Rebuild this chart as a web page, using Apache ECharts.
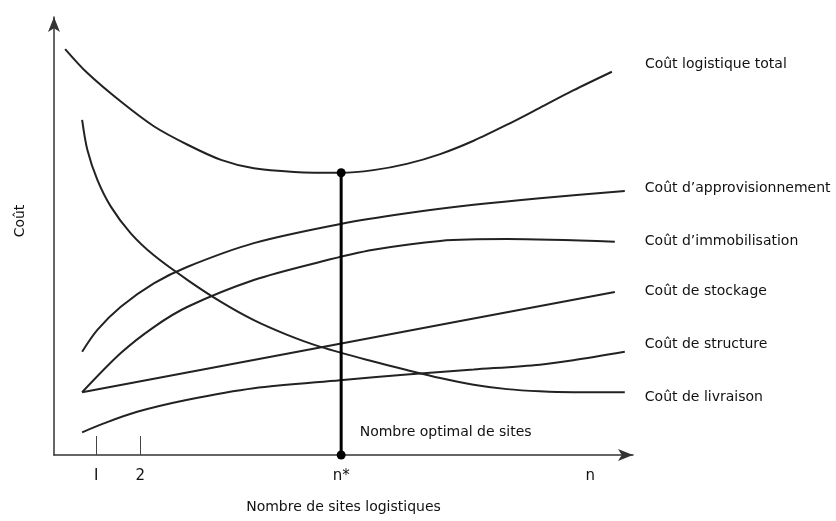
<!DOCTYPE html>
<html><head><meta charset="utf-8">
<script src="https://cdn.jsdelivr.net/npm/echarts@6/dist/echarts.min.js"></script>
<style>html,body{margin:0;padding:0;background:#fff}#c{width:836px;height:521px}</style>
</head><body><div id="c"></div>
<script>
// Conceptual curves: [x, y] in arbitrary units (x: number of sites, y: cost)
const coutTotal = [[1.9,91.2],[5.7,85.8],[11.4,79.4],[17.1,73.8],[22.8,69.7],[28.5,66.3],[34.1,64.4],[41.0,63.6],[48.9,63.4],[54.5,64.0],[60.2,65.4],[65.9,67.6],[71.6,70.6],[77.3,74.2],[82.9,78.0],[88.6,81.9],[95.2,86.1]];
const coutAppro = [[4.8,23.2],[7.4,28.1],[11.4,33.3],[17.1,38.6],[22.8,42.3],[34.1,47.6],[48.9,51.9],[60.2,54.3],[71.6,56.2],[82.9,57.7],[97.4,59.3]];
const coutImmo = [[4.8,14.1],[11.4,22.9],[17.1,28.8],[22.8,33.3],[34.1,39.3],[45.5,43.4],[54.5,46.1],[65.9,48.1],[77.3,48.5],[95.7,47.9]];
const coutStock = [[4.8,14.1],[48.8,25.0],[95.7,36.6]];
const coutStruct = [[4.8,5.1],[8.5,7.1],[14.2,9.7],[22.8,12.4],[34.1,15.0],[48.8,16.8],[60.2,18.1],[71.6,19.2],[82.9,20.3],[88.6,21.3],[97.4,23.2]];
const coutLivr = [[4.8,75.3],[5.7,68.5],[7.4,61.8],[9.7,55.8],[13.1,49.8],[17.1,44.8],[22.8,39.3],[28.5,34.4],[34.1,30.3],[39.8,27.0],[45.5,24.3],[54.5,21.0],[60.2,19.1],[65.9,17.3],[71.6,15.8],[77.3,14.8],[82.9,14.3],[88.6,14.1],[97.4,14.1]];
const seriesNames = ["Coût logistique total","Coût d’approvisionnement","Coût d’immobilisation","Coût de stockage","Coût de structure","Coût de livraison"];
const nStar = 49;
const optimum = [[nStar,0],[nStar,63.4]];
const tickValues = [7.2, 14.7, 49, 91.5];
const tickLabels = ["I","2","n*","n"];
const xTickMarks = [7.2, 14.7];

const FONT = "DejaVu Sans";
const ink = "#222";
const chart = echarts.init(document.getElementById('c'));
const curves = [coutTotal, coutAppro, coutImmo, coutStock, coutStruct, coutLivr];
const endOffsets = [[25,-7],[12,-3],[22,0],[22,-1],[12,-7],[12,5]];
const series = curves.map((d,i)=>({
  type:'line', name: seriesNames[i], data:d, smooth:0.3, showSymbol:false, symbol:'none',
  lineStyle:{color:ink,width:2}, silent:true,
  endLabel:{show:true, formatter: seriesNames[i], color:'#111', fontFamily:FONT, fontSize:14, offset:endOffsets[i]}
}));
series.push({
  type:'line', data:optimum, symbol:'circle', symbolSize:9, showSymbol:true,
  itemStyle:{color:'#000'}, lineStyle:{color:'#000',width:3}, silent:true,
  label:{show:true, position:'right', formatter:(p)=> p.dataIndex===0 ? 'Nombre optimal de sites' : '',
    offset:[9,-23], color:'#111', fontFamily:FONT, fontSize:14}
});
chart.setOption({
  animation:false,
  grid:{left:54,right:203,top:17,bottom:66},
  xAxis:{type:'value', min:0, max:98.8,
    name:'Nombre de sites logistiques', nameLocation:'middle', nameGap:45,
    nameTextStyle:{color:'#111',fontFamily:FONT,fontSize:14},
    axisLine:{lineStyle:{color:'#333',width:1.5}, symbol:['none','arrow'], symbolSize:[9,15]},
    axisTick:{show:true, inside:true, length:19, customValues:xTickMarks, lineStyle:{color:'#444',width:1}},
    axisLabel:{show:true, customValues:tickValues, margin:14, color:'#111', fontFamily:FONT, fontSize:15,
      formatter:(v)=>{const i=tickValues.indexOf(v); return i>=0?tickLabels[i]:'';}},
    splitLine:{show:false}},
  yAxis:{type:'value', min:0, max:98.4,
    name:'Coût', nameLocation:'middle', nameGap:27, nameRotate:90,
    nameTextStyle:{color:'#111',fontFamily:FONT,fontSize:14,padding:[0,0,0,30]},
    axisLine:{show:true, lineStyle:{color:'#333',width:1.5}, symbol:['none','arrow'], symbolSize:[9,15]},
    axisTick:{show:false}, axisLabel:{show:false}, splitLine:{show:false}},
  series
});
</script></body></html>
